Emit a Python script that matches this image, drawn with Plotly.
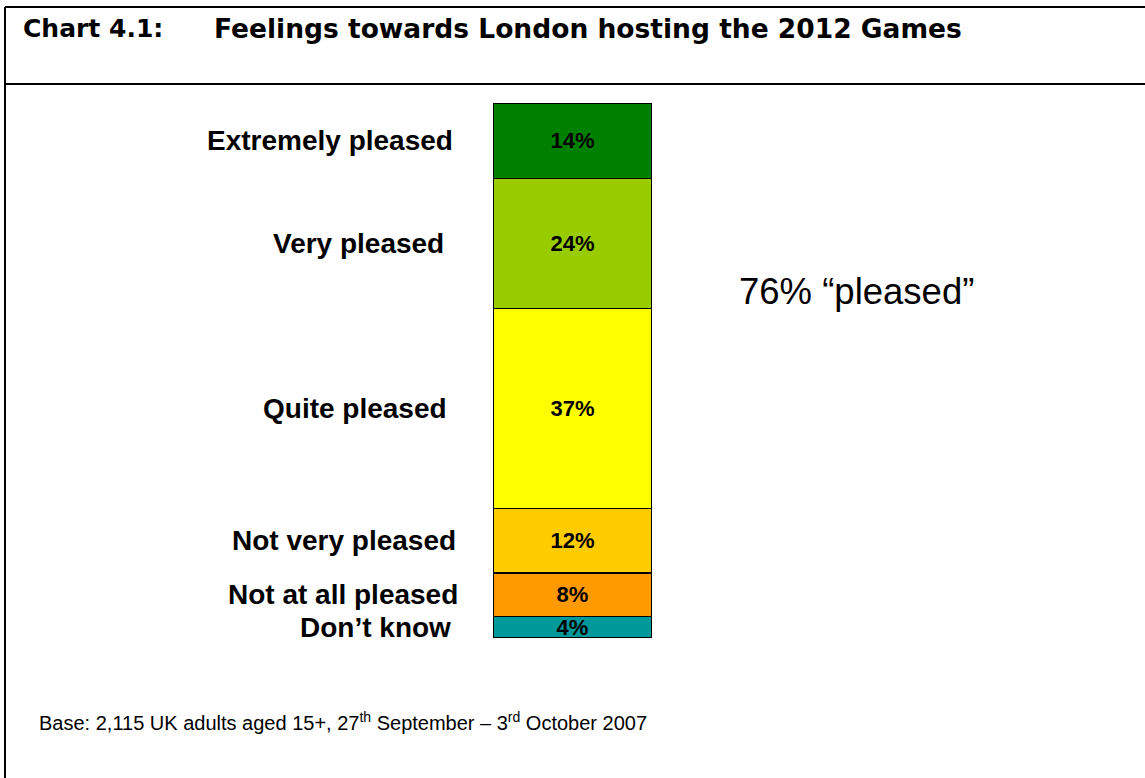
import plotly.graph_objects as go

# Survey responses, listed from the bottom of the stack upwards
categories = ["Don’t know", "Not at all pleased", "Not very pleased",
              "Quite pleased", "Very pleased", "Extremely pleased"]
shares = [4, 8, 12, 37, 24, 14]
colors = ["#009999", "#FF9900", "#FFCC00", "#FFFF00", "#99CC00", "#008000"]

title_label = "Chart 4.1:"
title_text = "Feelings towards London hosting the 2012 Games"
summary_text = "76% “pleased”"
base_note = ("Base: 2,115 UK adults aged 15+, 27<sup>th</sup> September – "
             "3<sup>rd</sup> October 2007")

W, H = 1145, 778
BAR_L, BAR_R, BAR_T, BAR_B = 493, 652, 103, 638


def px_x(p):
    return (p - BAR_L) / (BAR_R - BAR_L)


def px_y(p):
    return (BAR_B - p) / (BAR_B - BAR_T)


fig = go.Figure()
for cat, val, col in zip(categories, shares, colors):
    fig.add_trace(go.Bar(
        x=[0], y=[val], name=cat, width=1,
        marker=dict(color=col, line=dict(color="black", width=1.5)),
        text=[f"{val}%"], textposition="inside", insidetextanchor="middle",
        constraintext="none", textangle=0,
        textfont=dict(family="Liberation Sans", size=22, color="black", weight="bold"),
        hoverinfo="skip",
    ))

# Category labels to the left of each segment
label_right_edges = [453, 460, 458, 449, 446, 455]
annotations = []
cum = 0
for cat, val, edge in zip(categories, shares, label_right_edges):
    annotations.append(dict(
        x=px_x(edge), xref="paper", y=cum + val / 2, yref="y",
        text=f"<b>{cat}</b>", showarrow=False, xanchor="right", yanchor="middle",
        font=dict(family="Liberation Sans", size=28, color="black"),
    ))
    cum += val

annotations += [
    dict(x=px_x(21), xref="paper", y=px_y(28), yref="paper", text=f"<b>{title_label}</b>",
         showarrow=False, xanchor="left", yanchor="middle",
         font=dict(family="DejaVu Sans", size=25, color="black")),
    dict(x=px_x(212), xref="paper", y=px_y(28), yref="paper", text=f"<b>{title_text}</b>",
         showarrow=False, xanchor="left", yanchor="middle",
         font=dict(family="DejaVu Sans", size=26.5, color="black")),
    dict(x=px_x(737), xref="paper", y=px_y(291), yref="paper", text=summary_text,
         showarrow=False, xanchor="left", yanchor="middle",
         font=dict(family="Liberation Sans", size=36.5, color="black")),
    dict(x=px_x(37), xref="paper", y=px_y(721), yref="paper", text=base_note,
         showarrow=False, xanchor="left", yanchor="middle",
         font=dict(family="Liberation Sans", size=20, color="black")),
]

frame = dict(color="black", width=2)
shapes = [
    dict(type="line", xref="paper", yref="paper", x0=px_x(5), x1=px_x(5),
         y0=px_y(7), y1=px_y(H), line=frame),
    dict(type="line", xref="paper", yref="paper", x0=px_x(5), x1=px_x(W),
         y0=px_y(7), y1=px_y(7), line=frame),
    dict(type="line", xref="paper", yref="paper", x0=px_x(5), x1=px_x(W),
         y0=px_y(84), y1=px_y(84), line=frame),
]

fig.update_layout(
    width=W, height=H, barmode="stack", showlegend=False,
    margin=dict(l=BAR_L, r=W - BAR_R, t=BAR_T, b=H - BAR_B, pad=0),
    paper_bgcolor="white", plot_bgcolor="white",
    xaxis=dict(range=[-0.5, 0.5], visible=False, fixedrange=True),
    yaxis=dict(range=[0, sum(shares)], visible=False, fixedrange=True),
    annotations=annotations, shapes=shapes,
)

fig.write_html("out.html")
